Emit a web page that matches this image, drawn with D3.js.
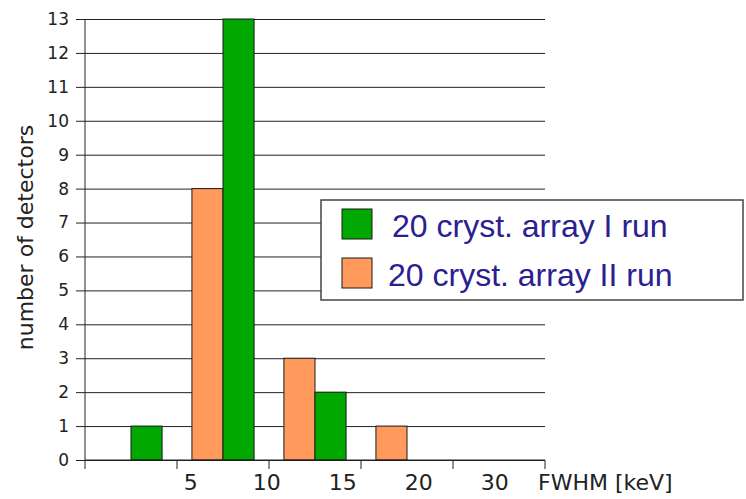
<!DOCTYPE html>
<html>
<head>
<meta charset="utf-8">
<script src="https://cdn.jsdelivr.net/npm/d3@7"></script>
<style>
    body { margin: 0; background: #fff; }
    #chart { width: 746px; height: 499px; }
</style>
</head>
<body>
<div id="chart"></div>
<script>
// data
const bins = ["0-5", "5-10", "10-15", "15-20", "20-30"];
const tickLabels = ["5", "10", "15", "20", "30"];
const runI = [1, 13, 2, 0, 0];
const runII = [0, 8, 3, 1, 0];
const seriesNames = ["20 cryst. array I run", "20 cryst. array II run"];
const yTicks = d3.range(0, 14);

class HistVis {

    constructor(parentElement) {
        this.parentElement = parentElement;
        this.initVis();
    }

    initVis() {
        let vis = this;

        vis.margin = {top: 19, right: 201, bottom: 39, left: 85};
        vis.width = 746 - vis.margin.left - vis.margin.right;
        vis.height = 499 - vis.margin.top - vis.margin.bottom;

        vis.svg = d3.select("#" + vis.parentElement).append("svg")
            .attr("width", 746)
            .attr("height", 499)
            .append("g")
            .attr("transform", "translate(" + vis.margin.left + "," + vis.margin.top + ")");

        // scales
        vis.x = d3.scaleBand().domain(bins).range([0, vis.width]);
        vis.xSub = d3.scaleBand().domain(["II", "I"]).range([0, vis.x.bandwidth()]).paddingOuter(0.48);
        vis.y = d3.scaleLinear().domain([0, 13]).range([vis.height, 0]);
        vis.labelX = d3.scalePoint().domain(tickLabels).range([vis.width * 0.23, vis.width * 0.891]);
        vis.color = {I: "#00a800", II: "#ff9a5c"};

        vis.wrangleData();
    }

    wrangleData() {
        let vis = this;
        vis.displayData = [];
        bins.forEach((b, i) => {
            vis.displayData.push({bin: b, run: "II", value: runII[i]});
            vis.displayData.push({bin: b, run: "I", value: runI[i]});
        });
        vis.updateVis();
    }

    updateVis() {
        let vis = this;

        // gridlines (also serve as y ticks)
        vis.svg.append("g")
            .attr("class", "y-axis axis")
            .call(d3.axisLeft(vis.y).tickValues(yTicks).tickSize(-vis.width).tickPadding(16).tickFormat(d3.format("d")))
            .call(g => g.select(".domain").remove())
            .call(g => g.selectAll(".tick line").attr("x1", -9).attr("x2", vis.width).attr("stroke", "#222"))
            .call(g => g.selectAll(".tick text")
                .attr("x", -16)
                .attr("font-family", "DejaVu Sans")
                .attr("font-size", "17px")
                .attr("fill", "#222"));

        // bars
        vis.svg.append("g").selectAll("rect")
            .data(vis.displayData.filter(d => d.value > 0))
            .enter().append("rect")
            .attr("x", d => vis.x(d.bin) + vis.xSub(d.run))
            .attr("y", d => vis.y(d.value))
            .attr("width", vis.xSub.bandwidth())
            .attr("height", d => vis.height - vis.y(d.value))
            .attr("fill", d => vis.color[d.run])
            .attr("stroke", "#1a1a1a")
            .attr("stroke-width", 1);

        // y axis line
        vis.svg.append("line")
            .attr("x1", 0).attr("x2", 0)
            .attr("y1", 0).attr("y2", vis.height + 9)
            .attr("stroke", "#222");

        // x axis with ticks at the bin edges
        let edges = bins.map(b => vis.x(b)).concat([vis.width]);
        vis.svg.append("line")
            .attr("x1", 0).attr("x2", vis.width)
            .attr("y1", vis.height).attr("y2", vis.height)
            .attr("stroke", "#222");
        vis.svg.append("g").selectAll("line")
            .data(edges.slice(1))
            .enter().append("line")
            .attr("x1", d => d).attr("x2", d => d)
            .attr("y1", vis.height).attr("y2", vis.height + 9)
            .attr("stroke", "#222");

        vis.svg.append("g").selectAll("text")
            .data(tickLabels)
            .enter().append("text")
            .attr("x", d => vis.labelX(d))
            .attr("y", vis.height + 30)
            .attr("text-anchor", "middle")
            .attr("font-family", "DejaVu Sans")
            .attr("font-size", "22px")
            .attr("fill", "#222")
            .text(d => d);

        // axis titles
        vis.svg.append("text")
            .attr("x", vis.width - 7)
            .attr("y", vis.height + 30)
            .attr("font-family", "DejaVu Sans")
            .attr("font-size", "22px")
            .attr("fill", "#222")
            .text("FWHM [keV]");

        vis.svg.append("text")
            .attr("transform", `translate(${-52}, ${vis.height / 2 - 2}) rotate(-90)`)
            .attr("text-anchor", "middle")
            .attr("font-family", "DejaVu Sans")
            .attr("font-size", "22px")
            .attr("fill", "#222")
            .text("number of detectors");

        // legend
        let legend = vis.svg.append("g")
            .attr("transform", "translate(236,181)");
        legend.append("rect")
            .attr("width", 422)
            .attr("height", 100)
            .attr("fill", "#fff")
            .attr("stroke", "#444")
            .attr("stroke-width", 1.5);
        let items = legend.selectAll(".item")
            .data([{run: "I", name: seriesNames[0]}, {run: "II", name: seriesNames[1]}])
            .enter().append("g")
            .attr("class", "item")
            .attr("transform", (d, i) => `translate(21, ${9 + i * 49})`);
        items.append("rect")
            .attr("width", 30)
            .attr("height", 30)
            .attr("fill", d => vis.color[d.run])
            .attr("stroke", "#1a1a1a");
        items.append("text")
            .attr("x", (d, i) => 50 - i * 4)
            .attr("y", 28)
            .attr("font-family", "Liberation Sans")
            .attr("font-size", "32px")
            .attr("fill", "#2b2090")
            .text(d => d.name);
    }
}

let myHistVis = new HistVis("chart");
</script>
</body>
</html>
